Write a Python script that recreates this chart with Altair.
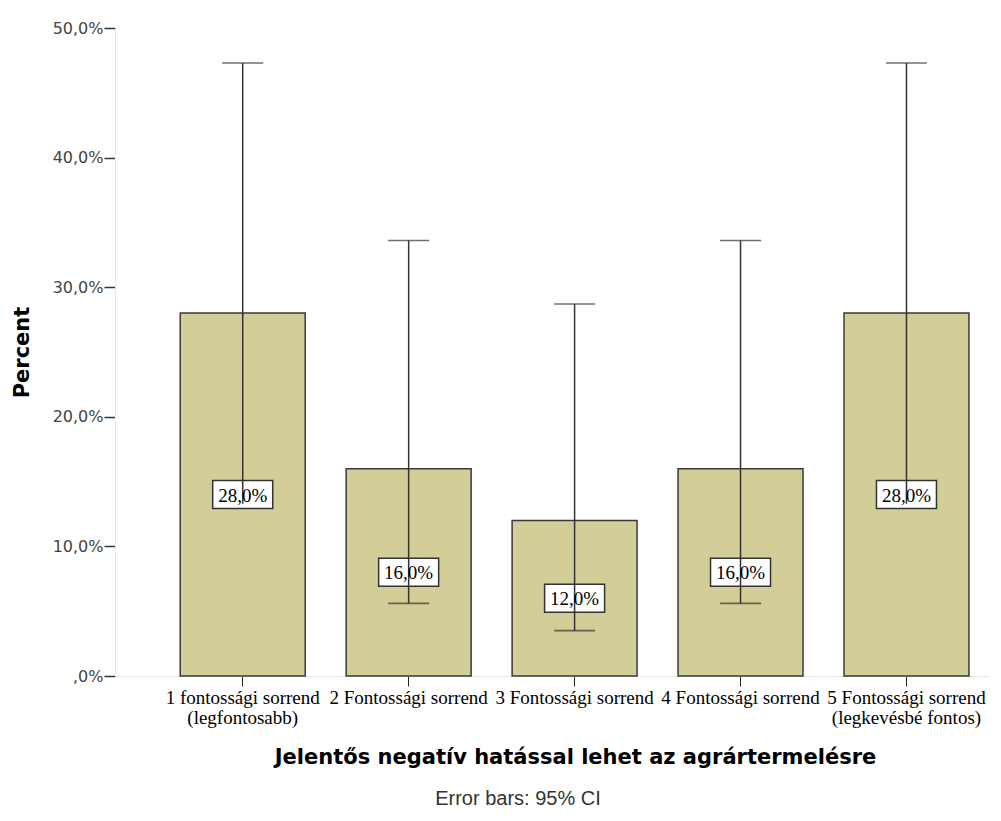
import altair as alt
import pandas as pd

categories = [
    "1 fontossági sorrend|(legfontosabb)",
    "2 Fontossági sorrend",
    "3 Fontossági sorrend",
    "4 Fontossági sorrend",
    "5 Fontossági sorrend|(legkevésbé fontos)",
]
percent = [28.0, 16.0, 12.0, 16.0, 28.0]
ci_low = [13.3, 5.6, 3.5, 5.6, 13.3]
ci_high = [47.3, 33.6, 28.7, 33.6, 47.3]
y_ticks = [0, 10, 20, 30, 40, 50]

df = pd.DataFrame({"cat": categories, "pct": percent, "lo": ci_low, "hi": ci_high})

x_scale = alt.Scale(domain=categories, paddingInner=0.247, paddingOuter=0.26, align=0.756)
y_scale = alt.Scale(domain=[0, 50], nice=False)

x_enc = alt.X(
    "cat:N",
    scale=x_scale,
    sort=categories,
    axis=alt.Axis(
        title="Jelentős negatív hatással lehet az agrártermelésre",
        titleFont="DejaVu Sans",
        titleFontSize=21,
        titleFontWeight="bold",
        titleColor="#000000",
        titleX=460,
        titleY=81,
        titleAlign="center",
        titleBaseline="middle",
        labelExpr="split(datum.label, '|')",
        labelFont="Liberation Serif",
        labelFontSize=19,
        labelColor="#000000",
        labelAngle=0,
        labelPadding=2,
        labelLineHeight=20,
        labelOverlap=False,
        tickSize=10,
        tickColor="#222222",
        tickWidth=1,
        domainColor="#e6e6e6",
        domainWidth=1,
        grid=False,
    ),
)

y_axis = alt.Axis(
    title="Percent",
    titleFont="DejaVu Sans",
    titleFontSize=21,
    titleFontWeight="bold",
    titleColor="#000000",
    titleX=-93,
    titleY=324,
    titleAngle=-90,
    titleAlign="center",
    titleBaseline="middle",
    values=y_ticks,
    labelExpr="datum.value == 0 ? ',0%' : replace(format(datum.value, '.1f'), '.', ',') + '%'",
    labelFont="DejaVu Sans",
    labelFontSize=16,
    labelColor="#444444",
    labelPadding=1,
    tickSize=11,
    tickColor="#333333",
    tickWidth=1.5,
    domainColor="#e6e6e6",
    domainWidth=1,
    grid=False,
)

base = alt.Chart(df)

bars = base.mark_bar(fill="#d3ce97", stroke="#3a3a3a", strokeWidth=1.5).encode(
    x=x_enc,
    y=alt.Y("pct:Q", scale=y_scale, axis=y_axis),
)

caps_hi = base.mark_tick(orient="horizontal", size=41, thickness=1.6, color="#333333").encode(
    x=alt.X("cat:N", sort=categories), y=alt.Y("hi:Q")
)
caps_lo = base.mark_tick(orient="horizontal", size=41, thickness=1.6, color="#333333").encode(
    x=alt.X("cat:N", sort=categories), y=alt.Y("lo:Q")
)

boxes = base.transform_calculate(mid="datum.pct / 2").mark_point(
    shape="M-1,-0.467L1,-0.467L1,0.467L-1,0.467Z",
    size=3600,
    filled=True,
    fill="#ffffff",
    stroke="#333333",
    strokeWidth=1.5,
    opacity=1,
).encode(x=alt.X("cat:N", sort=categories), y=alt.Y("mid:Q"))

rule = base.mark_rule(color="#333333", strokeWidth=1.5).encode(
    x=alt.X("cat:N", sort=categories), y=alt.Y("lo:Q"), y2="hi:Q"
)

labels = base.transform_calculate(
    mid="datum.pct / 2",
    txt="replace(format(datum.pct, '.1f'), '.', ',') + '%'",
).mark_text(font="Liberation Serif", fontSize=19, color="#000000", baseline="middle", dy=1).encode(
    x=alt.X("cat:N", sort=categories), y=alt.Y("mid:Q"), text="txt:N"
)

note = base.mark_text(
    font="Liberation Sans", fontSize=20, color="#333333", baseline="middle", align="center"
).encode(
    x=alt.value(403), y=alt.value(771), text=alt.value("Error bars: 95% CI")
).transform_filter("datum.cat == '2 Fontossági sorrend'")

chart = (
    alt.layer(bars, caps_hi, caps_lo, boxes, rule, labels, note)
    .properties(
        width=875,
        height=648,
        autosize=alt.AutoSizeParams(type="none"),
        padding={"left": 107, "top": 20, "right": 3, "bottom": 137},
    )
    .configure_view(stroke=None)
)

chart.save("out.html", embed_options={"renderer": "svg", "actions": False})
